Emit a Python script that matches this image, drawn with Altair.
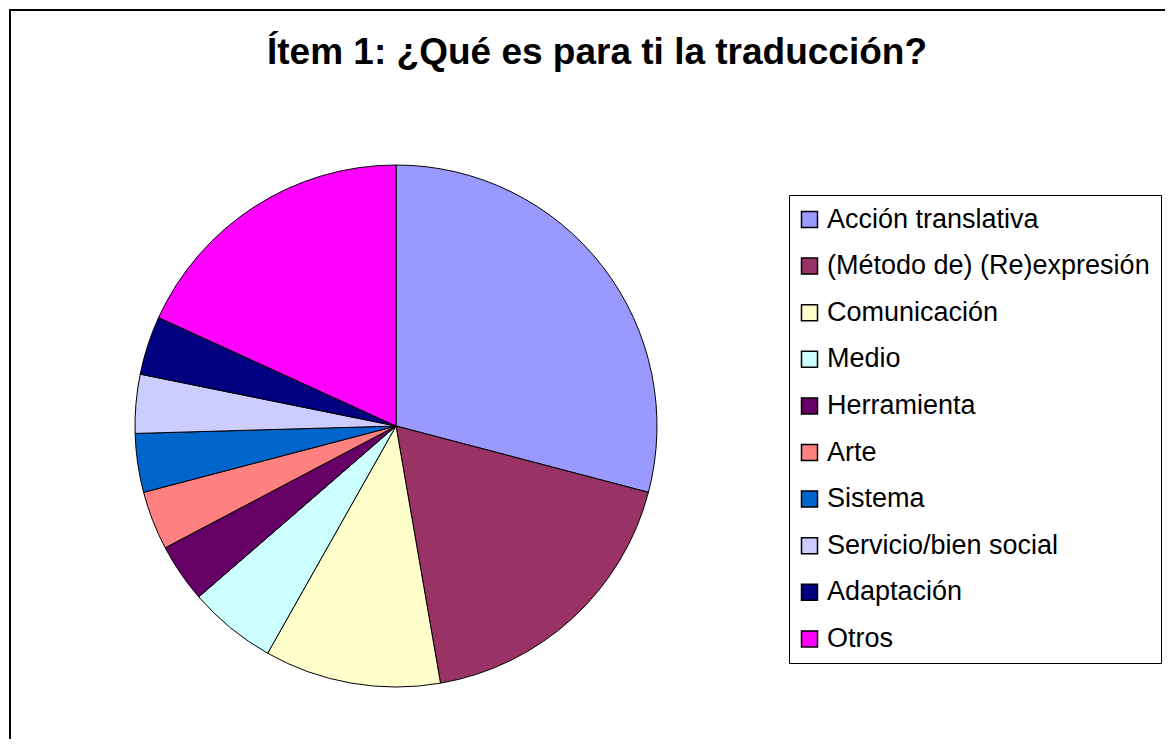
import altair as alt
import pandas as pd

categories = ["Acción translativa", "(Método de) (Re)expresión", "Comunicación", "Medio",
              "Herramienta", "Arte", "Sistema", "Servicio/bien social", "Adaptación", "Otros"]
values = [16, 10, 6, 3, 2, 2, 2, 2, 2, 10]
colors = ["#9999FF", "#993366", "#FFFFCC", "#CCFFFF", "#660066",
          "#FF8080", "#0066CC", "#CCCCFF", "#000080", "#FF00FF"]
title_text = "Ítem 1: ¿Qué es para ti la traducción?"

df = pd.DataFrame({"categoria": categories, "valor": values, "orden": list(range(len(values)))})
frame_df = pd.DataFrame({"marco": [0]})

FONT = "Liberation Sans"

frame = alt.Chart(frame_df).mark_rect(
    fillOpacity=0, stroke="black", strokeWidth=2
).encode(
    x=alt.value(1), x2=alt.value(3000), y=alt.value(1), y2=alt.value(3000)
)

pie = alt.Chart(df).mark_arc(stroke="black", strokeWidth=1, outerRadius=261).encode(
    theta=alt.Theta("valor:Q", stack=True),
    order=alt.Order("orden:Q"),
    color=alt.Color(
        "categoria:N",
        scale=alt.Scale(domain=categories, range=colors),
        legend=alt.Legend(
            title=None,
            orient="none",
            legendX=780,
            legendY=186,
            symbolType="square",
            symbolSize=256,
            symbolStrokeColor="black",
            symbolStrokeWidth=1.5,
            symbolOpacity=1,
            symbolOffset=-4,
            labelFont=FONT,
            labelFontSize=27,
            labelColor="black",
            labelLimit=500,
            labelOffset=4,
            rowPadding=18.6,
            padding=11,
            strokeColor="black",
            fillColor="white",
        ),
    ),
    x=alt.value(387),
    y=alt.value(417),
)

chart = alt.layer(frame, pie).properties(
    width=1156,
    height=730,
    autosize=alt.AutoSizeParams(type="none"),
    padding={"left": 1, "top": 1, "right": 0, "bottom": 0},
    title=alt.TitleParams(
        text=title_text,
        font=FONT,
        fontSize=37,
        fontWeight="bold",
        color="black",
        anchor="start",
        frame="group",
        dy=67,
        dx=258,
    ),
).configure_view(stroke=None)

chart.save("out.html", embed_options={"renderer": "svg", "actions": False})
